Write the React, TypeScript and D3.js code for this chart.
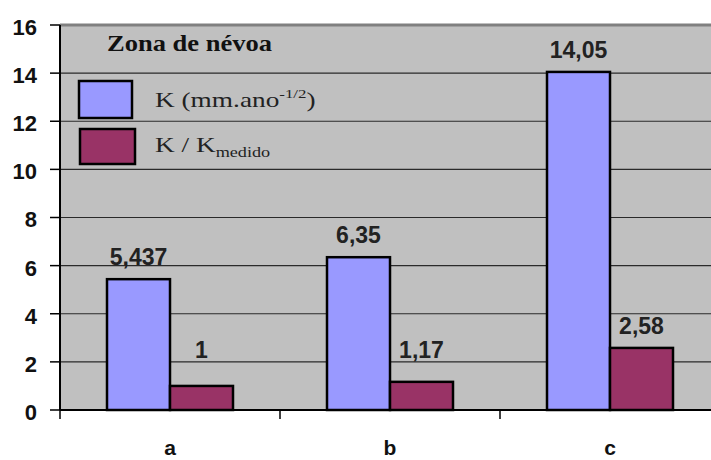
import React from "react";
import * as d3 from "d3";

const categories = ["a", "b", "c"];
const seriesK = [5.437, 6.35, 14.05];
const seriesRatio = [1, 1.17, 2.58];
const labelsK = ["5,437", "6,35", "14,05"];
const labelsRatio = ["1", "1,17", "2,58"];
const yTicks = [0, 2, 4, 6, 8, 10, 12, 14, 16];

const W = 711;
const H = 460;
const left = 60;
const top = 25;
const bottom = 410;
const bandW = 220;

export default function App() {
  const y = d3.scaleLinear().domain([0, 16]).range([bottom, top]);
  const x = d3
    .scaleBand()
    .domain(categories)
    .range([left, left + bandW * 3])
    .paddingInner(0)
    .paddingOuter(0);
  const inner = d3.scaleBand().domain(["k", "r"]).range([47, bandW - 47]).padding(0);
  const series = [
    { key: "k", values: seriesK, labels: labelsK, color: "#9999ff" },
    { key: "r", values: seriesRatio, labels: labelsRatio, color: "#993366" },
  ];
  const sans = "Liberation Sans, Arial, sans-serif";
  const serif = "Liberation Serif, Times New Roman, serif";
  return (
    <svg width={W} height={H} style={{ position: "absolute", left: 0, top: 0, background: "#fff" }}>
      <rect x={left} y={top} width={W - left} height={bottom - top} fill="#c0c0c0" />
      <line x1={left} x2={W} y1={top} y2={top} stroke="#808080" strokeWidth={3} />
      {yTicks.slice(1, -1).map((t) => (
        <line key={t} x1={left} x2={W} y1={y(t)} y2={y(t)} stroke="#2a2a2a" strokeWidth={1.2} />
      ))}
      {series.map((s) =>
        categories.map((c, i) => {
          const bx = (x(c) as number) + (inner(s.key) as number);
          return (
            <rect
              key={s.key + c}
              x={bx}
              y={y(s.values[i])}
              width={inner.bandwidth()}
              height={bottom - y(s.values[i])}
              fill={s.color}
              stroke="#000"
              strokeWidth={2.5}
            />
          );
        })
      )}
      {series.map((s) =>
        categories.map((c, i) => {
          const bx = (x(c) as number) + (inner(s.key) as number) + inner.bandwidth() / 2;
          return (
            <text
              key={"l" + s.key + c}
              x={bx}
              y={y(Math.max(s.values[i], 1.6)) - 14}
              textAnchor="middle"
              fontFamily={sans}
              fontWeight="bold"
              fontSize={23}
              fill="#222"
            >
              {s.labels[i]}
            </text>
          );
        })
      )}
      {/* axes */}
      <line x1={left} x2={left} y1={top} y2={bottom} stroke="#000" strokeWidth={2} />
      <line x1={left} x2={W} y1={bottom} y2={bottom} stroke="#000" strokeWidth={2} />
      {yTicks.map((t) => (
        <g key={"t" + t}>
          <line x1={left - 10} x2={left} y1={y(t)} y2={y(t)} stroke="#000" strokeWidth={1.5} />
          <text
            x={37}
            y={y(t)}
            dy="0.45em"
            textAnchor="end"
            fontFamily={sans}
            fontWeight="bold"
            fontSize={22}
            fill="#111"
          >
            {t}
          </text>
        </g>
      ))}
      {categories.map((c) => (
        <g key={"c" + c}>
          <line x1={x(c) as number} x2={x(c) as number} y1={bottom} y2={bottom + 9} stroke="#000" strokeWidth={1.5} />
          <text
            x={(x(c) as number) + bandW / 2}
            y={455}
            textAnchor="middle"
            fontFamily={sans}
            fontWeight="bold"
            fontSize={21}
            fill="#111"
          >
            {c}
          </text>
        </g>
      ))}
      {/* legend */}
      <text
        x={107}
        y={51}
        fontFamily={serif}
        fontWeight="bold"
        fontSize={24}
        fill="#111"
        textLength={165}
        lengthAdjust="spacingAndGlyphs"
      >
        Zona de névoa
      </text>
      <rect x={79} y={81} width={53} height={37} fill="#9999ff" stroke="#000" strokeWidth={2.5} />
      <rect x={80} y={129} width={55} height={35} fill="#993366" stroke="#000" strokeWidth={2.5} />
      <g transform="translate(155,107) scale(1.3,1)">
        <text x={0} y={0} fontFamily={serif} fontSize={21} fill="#222">
          K (mm.ano<tspan dy={-9} fontSize={13}>-1/2</tspan>
          <tspan dy={9}>)</tspan>
        </text>
      </g>
      <g transform="translate(155,152) scale(1.3,1)">
        <text x={0} y={0} fontFamily={serif} fontSize={21} fill="#222">
          K / K<tspan dy={5} fontSize={14}>medido</tspan>
        </text>
      </g>
    </svg>
  );
}
